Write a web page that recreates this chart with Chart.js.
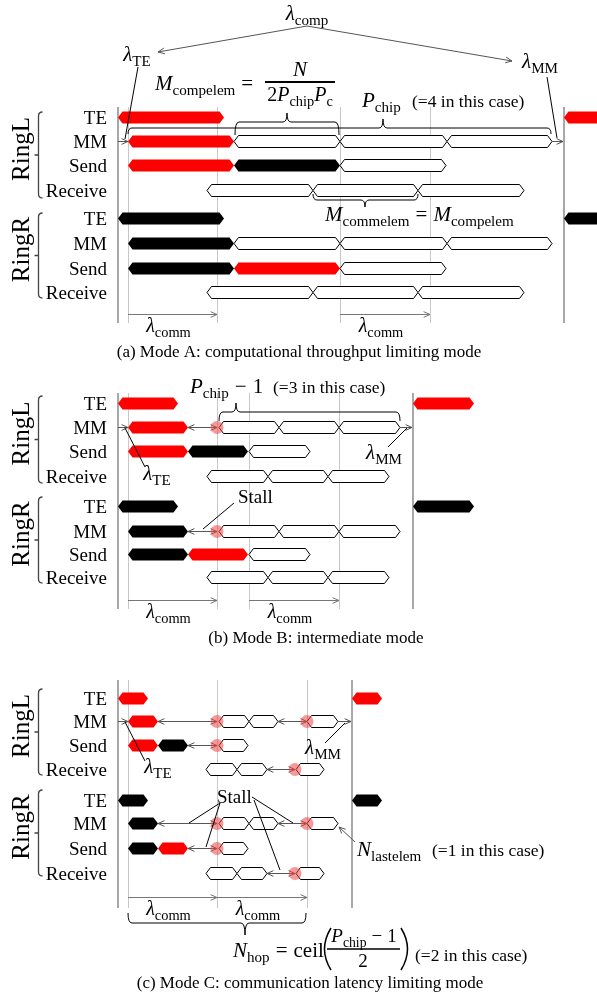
<!DOCTYPE html>
<html>
<head>
<meta charset="utf-8">
<script src="https://cdn.jsdelivr.net/npm/chart.js@4.4.1/dist/chart.umd.min.js"></script>
<style>
  html, body { margin: 0; padding: 0; background: #fff; }
  canvas { display: block; }
</style>
</head>
<body>
<canvas id="timeline" width="597" height="999"></canvas>
<script>
// ---- data: timeline segments [ring, row, start, end, owner] ----
// owner: 'L' = element of RingL, 'R' = element of RingR, 'o' = pending element
const rowLabels = ['TE', 'MM', 'Send', 'Receive'];
const ringLabels = ['RingL', 'RingR'];

const modeASegments = [
  [0,0,118,224,'L'], [0,0,564,670,'L'],
  [0,1,128,234,'L'], [0,1,234,340,'o'], [0,1,340,447,'o'], [0,1,447,552,'o'],
  [0,2,128,234,'L'], [0,2,234,340,'R'], [0,2,340,446,'o'],
  [0,3,207,313,'o'], [0,3,313,418,'o'], [0,3,418,524,'o'],
  [1,0,118,224,'R'], [1,0,564,670,'R'],
  [1,1,128,234,'R'], [1,1,234,340,'o'], [1,1,340,447,'o'], [1,1,447,552,'o'],
  [1,2,128,234,'R'], [1,2,234,340,'L'], [1,2,340,446,'o'],
  [1,3,207,313,'o'], [1,3,313,418,'o'], [1,3,418,524,'o']
];

const modeBSegments = [
  [0,0,118,178,'L'], [0,0,413,474,'L'],
  [0,1,128,188,'L'], [0,1,219,279,'o'], [0,1,279,339,'o'], [0,1,339,400,'o'],
  [0,2,128,188,'L'], [0,2,188,248,'R'], [0,2,249,310,'o'],
  [0,3,207,268,'o'], [0,3,268,328,'o'], [0,3,328,389,'o'],
  [1,0,118,178,'R'], [1,0,413,474,'R'],
  [1,1,128,188,'R'], [1,1,219,279,'o'], [1,1,279,339,'o'], [1,1,339,400,'o'],
  [1,2,128,188,'R'], [1,2,188,248,'L'], [1,2,249,310,'o'],
  [1,3,207,268,'o'], [1,3,268,328,'o'], [1,3,328,389,'o']
];

const modeCSegments = [
  [0,0,118,148,'L'], [0,0,352,382,'L'],
  [0,1,128,158,'L'], [0,1,219,249,'o'], [0,1,249,278,'o'], [0,1,307,338,'o'],
  [0,2,128,158,'L'], [0,2,158,188,'R'], [0,2,219,248,'o'],
  [0,3,206,237,'o'], [0,3,237,267,'o'], [0,3,296,324,'o'],
  [1,0,118,148,'R'], [1,0,352,382,'R'],
  [1,1,128,158,'R'], [1,1,219,249,'o'], [1,1,249,278,'o'], [1,1,307,338,'o'],
  [1,2,128,158,'R'], [1,2,158,188,'L'], [1,2,219,248,'o'],
  [1,3,206,237,'o'], [1,3,237,267,'o'], [1,3,296,324,'o']
];

// stalls: [ring, row, stall time, time the previous element finished]
const modeBStalls = [[0,1,217,188], [1,1,217,188]];
const modeCStalls = [
  [0,1,217,158], [0,1,307,278], [0,2,217,188], [0,3,295,267],
  [1,1,217,158], [1,1,307,278], [1,2,217,188], [1,3,295,267]
];

// time markers (phase boundaries) and λ_comm spans
const modeAMarks = { bounds: [118, 564], steps: [128, 217, 340, 430] };
const modeBMarks = { bounds: [118, 413], steps: [128, 217, 249, 339] };
const modeCMarks = { bounds: [118, 352], steps: [128, 217, 307] };
const modeAComm = [[128, 217], [340, 430]];
const modeBComm = [[128, 217], [249, 339]];
const modeCComm = [[128, 217], [217, 307]];

// ---- layout ----
const panels = [
  { seg: modeASegments, stalls: [], marks: modeAMarks, comm: modeAComm,
    rows: [[117,141,165,190],[218,243,268,292]], vTop: 107, vBot: 323, commY: 314,
    brackets: [[112,198],[213,298]],
    caption: '(a) Mode A: computational throughput limiting mode', capX: 299, capY: 357 },
  { seg: modeBSegments, stalls: modeBStalls, marks: modeBMarks, comm: modeBComm,
    rows: [[403,427,451,476],[506,531,554,577]], vTop: 393, vBot: 609, commY: 600,
    brackets: [[396,483],[497,583]],
    caption: '(b) Mode B: intermediate mode', capX: 316, capY: 643 },
  { seg: modeCSegments, stalls: modeCStalls, marks: modeCMarks, comm: modeCComm,
    rows: [[698,721,745,769],[800,823,848,873]], vTop: 680, vBot: 908, commY: 897,
    brackets: [[689,775],[790,876]],
    caption: '(c) Mode C: communication latency limiting mode', capX: 310, capY: 988 }
];

const ownerFill = { L: '#ff0000', R: '#000000', o: '#ffffff' };
const SERIF = '"Liberation Serif", "Times New Roman", serif';

// ---- drawing helpers ----
function tk(t, s, gap) { return { t, s: s || 'n', gap: gap || 0 }; }
function fontOf(tok, base) {
  if (tok.s === 's') return { font: `${(base * 0.72).toFixed(1)}px ${SERIF}`, dy: base * 0.24 };
  if (tok.s === 'i') return { font: `italic ${base}px ${SERIF}`, dy: 0 };
  return { font: `${base}px ${SERIF}`, dy: 0 };
}
function rich(ctx, tokens, x, y, align, base) {
  const parts = tokens.map(t => {
    const f = fontOf(t, base);
    ctx.font = f.font;
    return { t, f, w: ctx.measureText(t.t).width };
  });
  const total = parts.reduce((a, p) => a + p.w + p.t.gap, 0);
  let cx = align === 'center' ? x - total / 2 : align === 'right' ? x - total : x;
  ctx.textAlign = 'left';
  ctx.textBaseline = 'alphabetic';
  parts.forEach(p => {
    ctx.font = p.f.font;
    ctx.fillText(p.t.t, cx, y + p.f.dy);
    cx += p.w + p.t.gap;
  });
  return total;
}
function plain(ctx, text, x, y, align, size) {
  ctx.font = `${size}px ${SERIF}`;
  ctx.textAlign = align;
  ctx.textBaseline = 'alphabetic';
  ctx.fillText(text, x, y);
}
function hexBar(ctx, x1, x2, yc, fill) {
  const h = 12, d = 4.5;
  ctx.beginPath();
  ctx.moveTo(x1, yc);
  ctx.lineTo(x1 + d, yc - h / 2);
  ctx.lineTo(x2 - d, yc - h / 2);
  ctx.lineTo(x2, yc);
  ctx.lineTo(x2 - d, yc + h / 2);
  ctx.lineTo(x1 + d, yc + h / 2);
  ctx.closePath();
  ctx.fillStyle = fill;
  ctx.fill();
  if (fill === '#ffffff') {
    ctx.strokeStyle = '#000';
    ctx.lineWidth = 1;
    ctx.stroke();
  }
}
function line(ctx, x1, y1, x2, y2, color, w) {
  ctx.beginPath();
  ctx.moveTo(x1, y1);
  ctx.lineTo(x2, y2);
  ctx.strokeStyle = color || '#000';
  ctx.lineWidth = w || 1;
  ctx.stroke();
}
function head(ctx, xt, yt, xf, yf, color, size) {
  const a = Math.atan2(yt - yf, xt - xf), s = size || 7, sp = 0.42;
  ctx.beginPath();
  ctx.moveTo(xt - s * Math.cos(a - sp), yt - s * Math.sin(a - sp));
  ctx.lineTo(xt, yt);
  ctx.lineTo(xt - s * Math.cos(a + sp), yt - s * Math.sin(a + sp));
  ctx.strokeStyle = color || '#000';
  ctx.lineWidth = 1;
  ctx.stroke();
}
function arrow(ctx, x1, y1, x2, y2, color, both) {
  line(ctx, x1, y1, x2, y2, color, 1);
  head(ctx, x2, y2, x1, y1, color);
  if (both) head(ctx, x1, y1, x2, y2, color);
}
function brace(ctx, x1, x2, ax, yEnd, yLine, yApex) {
  const r = 4;
  ctx.beginPath();
  ctx.moveTo(x1, yEnd);
  ctx.quadraticCurveTo(x1, yLine, x1 + r, yLine);
  ctx.lineTo(ax - r, yLine);
  ctx.quadraticCurveTo(ax, yLine, ax, yApex);
  ctx.quadraticCurveTo(ax, yLine, ax + r, yLine);
  ctx.lineTo(x2 - r, yLine);
  ctx.quadraticCurveTo(x2, yLine, x2, yEnd);
  ctx.strokeStyle = '#000';
  ctx.lineWidth = 1;
  ctx.stroke();
}
function ringBracket(ctx, x, y1, y2) {
  const m = (y1 + y2) / 2;
  ctx.beginPath();
  ctx.moveTo(x + 4, y1);
  ctx.quadraticCurveTo(x, y1, x, y1 + 4);
  ctx.lineTo(x, y2 - 4);
  ctx.quadraticCurveTo(x, y2, x + 4, y2);
  ctx.moveTo(x, m);
  ctx.lineTo(x - 4, m);
  ctx.strokeStyle = '#444';
  ctx.lineWidth = 1.3;
  ctx.stroke();
}

function drawPanel(ctx, p, X, Y) {
  // phase boundaries
  p.marks.steps.forEach(t => line(ctx, Math.round(X(t)) + 0.5, Y(p.vTop), Math.round(X(t)) + 0.5, Y(p.vBot), '#c8c8c8', 1));
  p.marks.bounds.forEach(t => line(ctx, Math.round(X(t)), Y(p.vTop), Math.round(X(t)), Y(p.vBot), '#a8a8a8', 2));

  // elements
  p.seg.forEach(([ring, row, a, b, owner]) => {
    hexBar(ctx, X(a), X(b), Y(p.rows[ring][row]) + 0.5, ownerFill[owner]);
  });

  // stalls: wait arrows and markers
  p.stalls.forEach(([ring, row, t, from]) => {
    const y = Y(p.rows[ring][row]) + 0.5;
    arrow(ctx, X(t), y, X(from), y, '#555', true);
  });
  p.stalls.forEach(([ring, row, t]) => {
    ctx.beginPath();
    ctx.arc(X(t), Y(p.rows[ring][row]) + 0.5, 6.5, 0, Math.PI * 2);
    ctx.fillStyle = 'rgba(238, 70, 70, 0.55)';
    ctx.fill();
  });

  // λ_comm spans
  ctx.fillStyle = '#000';
  p.comm.forEach(([a, b]) => {
    arrow(ctx, X(a), Y(p.commY) + 0.5, X(b), Y(p.commY) + 0.5, '#777', false);
    rich(ctx, [tk('λ', 'i'), tk('comm', 's')], X((a + b) / 2) - 4, Y(p.commY + 18), 'center', 20);
  });

  // row and ring labels
  p.rows.forEach((rs, ring) => {
    rs.forEach((y, row) => { ctx.fillStyle = '#000'; plain(ctx, rowLabels[row], 107, Y(y) + 6.5, 'right', 19); });
    const [b1, b2] = p.brackets[ring];
    ringBracket(ctx, 38.5, Y(b1), Y(b2));
    ctx.save();
    ctx.translate(29, Y((b1 + b2) / 2 - 6));
    ctx.rotate(-Math.PI / 2);
    ctx.fillStyle = '#000';
    plain(ctx, ringLabels[ring], 0, 0, 'center', 25);
    ctx.restore();
  });

  ctx.fillStyle = '#000';
  plain(ctx, p.caption, p.capX, Y(p.capY), 'center', 17);
}

function drawAnnotations(ctx, X, Y) {
  ctx.fillStyle = '#000';
  // --- Mode A ---
  rich(ctx, [tk('λ', 'i'), tk('comp', 's')], X(307), Y(20), 'center', 21);
  line(ctx, X(307), Y(26), X(158), Y(52), '#555', 1);
  head(ctx, X(158), Y(52), X(307), Y(26), '#555');
  line(ctx, X(307), Y(26), X(512), Y(61), '#555', 1);
  head(ctx, X(512), Y(61), X(307), Y(26), '#555');

  rich(ctx, [tk('λ', 'i'), tk('TE', 's')], X(137), Y(61), 'center', 21);
  line(ctx, X(138), Y(67), X(125), Y(139), '#000', 1);
  arrow(ctx, X(118), Y(141.5), X(128), Y(141.5), '#555', false);
  rich(ctx, [tk('λ', 'i'), tk('MM', 's')], X(540), Y(68), 'center', 21);
  line(ctx, X(547), Y(77), X(557), Y(138), '#000', 1);
  arrow(ctx, X(552), Y(141.5), X(563), Y(141.5), '#555', false);

  rich(ctx, [tk('M', 'i'), tk('compelem', 's', 6), tk('=', 'n')], X(155), Y(90), 'left', 21);
  line(ctx, X(265), Y(82), X(335), Y(82), '#000', 2);
  rich(ctx, [tk('N', 'i')], X(300), Y(76), 'center', 21);
  rich(ctx, [tk('2', 'n'), tk('P', 'i'), tk('chip', 's'), tk('P', 'i'), tk('c', 's')], X(300), Y(101), 'center', 20);
  brace(ctx, X(235), X(339), X(287), Y(135), Y(122), Y(113));
  brace(ctx, X(128), X(551), X(383), Y(134), Y(128), Y(119));
  rich(ctx, [tk('P', 'i'), tk('chip', 's')], X(362), Y(107), 'left', 21);
  plain(ctx, '(=4 in this case)', X(412), Y(107), 'left', 17.5);

  brace(ctx, X(313), X(418), X(365), Y(194), Y(200), Y(207));
  rich(ctx, [tk('M', 'i'), tk('commelem', 's', 6), tk('=', 'n', 6), tk('M', 'i'), tk('compelem', 's')], X(325), Y(221), 'left', 21);

  // --- Mode B ---
  rich(ctx, [tk('P', 'i'), tk('chip', 's', 6), tk('−', 'n', 6), tk('1', 'n')], X(190), Y(393), 'left', 21);
  plain(ctx, '(=3 in this case)', X(273), Y(393), 'left', 17.5);
  brace(ctx, X(219), X(400), X(236), Y(421), Y(412), Y(403));

  arrow(ctx, X(118), Y(427.5), X(128), Y(427.5), '#555', false);
  line(ctx, X(145), Y(467), X(125), Y(428), '#000', 1);
  rich(ctx, [tk('λ', 'i'), tk('TE', 's')], X(157), Y(480), 'center', 21);
  arrow(ctx, X(400), Y(427.5), X(412), Y(427.5), '#555', false);
  line(ctx, X(388), Y(447), X(407), Y(428), '#000', 1);
  rich(ctx, [tk('λ', 'i'), tk('MM', 's')], X(384), Y(459), 'center', 21);

  plain(ctx, 'Stall', X(238), Y(503), 'left', 19);
  line(ctx, X(234), Y(503), X(203), Y(529), '#000', 1);

  // --- Mode C ---
  arrow(ctx, X(118), Y(721.5), X(128), Y(721.5), '#555', false);
  line(ctx, X(145), Y(761), X(125), Y(722), '#000', 1);
  rich(ctx, [tk('λ', 'i'), tk('TE', 's')], X(158), Y(773), 'center', 21);
  arrow(ctx, X(338), Y(721.5), X(351), Y(721.5), '#555', false);
  line(ctx, X(325), Y(743), X(345), Y(723), '#000', 1);
  rich(ctx, [tk('λ', 'i'), tk('MM', 's')], X(323), Y(754), 'center', 21);

  plain(ctx, 'Stall', X(217), Y(803), 'left', 19);
  line(ctx, X(220), Y(803), X(189), Y(823), '#000', 1);
  line(ctx, X(220), Y(803), X(206), Y(847), '#000', 1);
  line(ctx, X(252), Y(797), X(293), Y(823), '#000', 1);
  line(ctx, X(254), Y(800), X(280), Y(870), '#000', 1);

  arrow(ctx, X(355), Y(842), X(339), Y(827), '#555', false);
  rich(ctx, [tk('N', 'i'), tk('lastelem', 's')], X(357), Y(856), 'left', 21);
  plain(ctx, '(=1 in this case)', X(432), Y(856), 'left', 17.5);

  brace(ctx, X(128), X(306), X(245), Y(913), Y(923), Y(935));
  rich(ctx, [tk('N', 'i'), tk('hop', 's', 6), tk('=', 'n', 6), tk('ceil', 'n')], X(233), Y(957), 'left', 21);
  ctx.beginPath();
  ctx.moveTo(X(331), Y(928)); ctx.quadraticCurveTo(X(318), Y(949), X(331), Y(970));
  ctx.moveTo(X(401), Y(928)); ctx.quadraticCurveTo(X(414), Y(949), X(401), Y(970));
  ctx.strokeStyle = '#000'; ctx.lineWidth = 1.5; ctx.stroke();
  rich(ctx, [tk('P', 'i'), tk('chip', 's', 5), tk('−', 'n', 5), tk('1', 'n')], X(364), Y(942), 'center', 19);
  line(ctx, X(327), Y(949), X(400), Y(949), '#000', 1.6);
  plain(ctx, '2', X(363), Y(967), 'center', 19);
  plain(ctx, '(=2 in this case)', X(415), Y(961), 'left', 17.5);
}

const ringTimelinePlugin = {
  id: 'ringTimeline',
  afterDraw(chart) {
    const ctx = chart.ctx;
    const X = v => chart.scales.x.getPixelForValue(v);
    const Y = v => chart.scales.y.getPixelForValue(v);
    ctx.save();
    ctx.fillStyle = '#fff';
    ctx.fillRect(0, 0, chart.width, chart.height);
    panels.forEach(p => drawPanel(ctx, p, X, Y));
    drawAnnotations(ctx, X, Y);
    ctx.restore();
  }
};

new Chart(document.getElementById('timeline'), {
  type: 'scatter',
  data: { datasets: [{ data: [] }] },
  options: {
    responsive: false,
    animation: false,
    devicePixelRatio: 1,
    layout: { padding: 0 },
    plugins: { legend: { display: false }, tooltip: { enabled: false } },
    scales: {
      x: { type: 'linear', min: 0, max: 597, display: false },
      y: { type: 'linear', min: 0, max: 999, reverse: true, display: false }
    }
  },
  plugins: [ringTimelinePlugin]
});
</script>
</body>
</html>
